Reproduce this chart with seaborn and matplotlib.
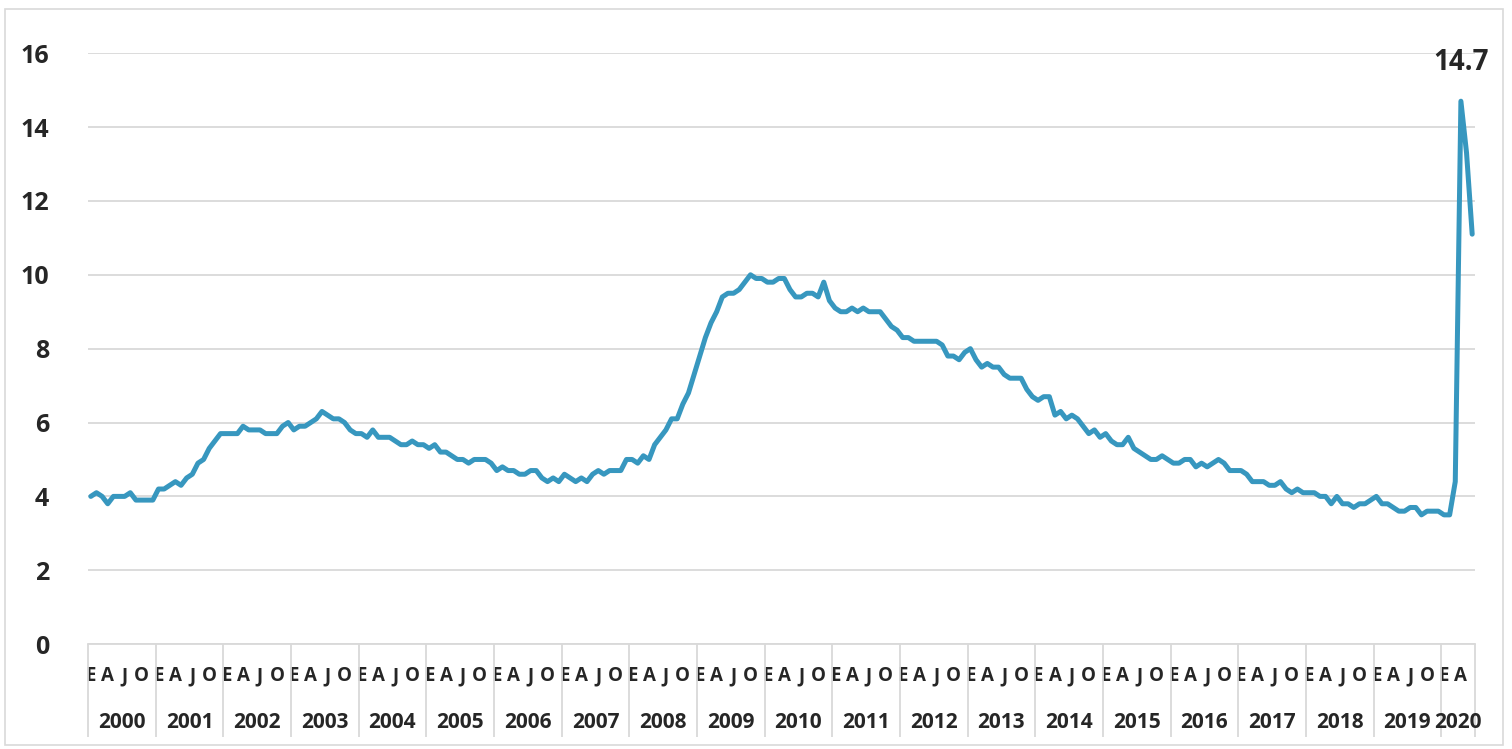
import matplotlib
matplotlib.use("Agg")
import matplotlib.pyplot as plt
import matplotlib.transforms as mtransforms
from matplotlib.patches import Rectangle
import numpy as np
import pandas as pd
import seaborn as sns

# tasa de desempleo mensual, ene-2000 a jun-2020
years = [str(y) for y in range(2000, 2021)]
month_letters = ['E', 'A', 'J', 'O']
rate_2000 = [4.0, 4.1, 4.0, 3.8, 4.0, 4.0, 4.0, 4.1, 3.9, 3.9, 3.9, 3.9]
rate_2001 = [4.2, 4.2, 4.3, 4.4, 4.3, 4.5, 4.6, 4.9, 5.0, 5.3, 5.5, 5.7]
rate_2002 = [5.7, 5.7, 5.7, 5.9, 5.8, 5.8, 5.8, 5.7, 5.7, 5.7, 5.9, 6.0]
rate_2003 = [5.8, 5.9, 5.9, 6.0, 6.1, 6.3, 6.2, 6.1, 6.1, 6.0, 5.8, 5.7]
rate_2004 = [5.7, 5.6, 5.8, 5.6, 5.6, 5.6, 5.5, 5.4, 5.4, 5.5, 5.4, 5.4]
rate_2005 = [5.3, 5.4, 5.2, 5.2, 5.1, 5.0, 5.0, 4.9, 5.0, 5.0, 5.0, 4.9]
rate_2006 = [4.7, 4.8, 4.7, 4.7, 4.6, 4.6, 4.7, 4.7, 4.5, 4.4, 4.5, 4.4]
rate_2007 = [4.6, 4.5, 4.4, 4.5, 4.4, 4.6, 4.7, 4.6, 4.7, 4.7, 4.7, 5.0]
rate_2008 = [5.0, 4.9, 5.1, 5.0, 5.4, 5.6, 5.8, 6.1, 6.1, 6.5, 6.8, 7.3]
rate_2009 = [7.8, 8.3, 8.7, 9.0, 9.4, 9.5, 9.5, 9.6, 9.8, 10.0, 9.9, 9.9]
rate_2010 = [9.8, 9.8, 9.9, 9.9, 9.6, 9.4, 9.4, 9.5, 9.5, 9.4, 9.8, 9.3]
rate_2011 = [9.1, 9.0, 9.0, 9.1, 9.0, 9.1, 9.0, 9.0, 9.0, 8.8, 8.6, 8.5]
rate_2012 = [8.3, 8.3, 8.2, 8.2, 8.2, 8.2, 8.2, 8.1, 7.8, 7.8, 7.7, 7.9]
rate_2013 = [8.0, 7.7, 7.5, 7.6, 7.5, 7.5, 7.3, 7.2, 7.2, 7.2, 6.9, 6.7]
rate_2014 = [6.6, 6.7, 6.7, 6.2, 6.3, 6.1, 6.2, 6.1, 5.9, 5.7, 5.8, 5.6]
rate_2015 = [5.7, 5.5, 5.4, 5.4, 5.6, 5.3, 5.2, 5.1, 5.0, 5.0, 5.1, 5.0]
rate_2016 = [4.9, 4.9, 5.0, 5.0, 4.8, 4.9, 4.8, 4.9, 5.0, 4.9, 4.7, 4.7]
rate_2017 = [4.7, 4.6, 4.4, 4.4, 4.4, 4.3, 4.3, 4.4, 4.2, 4.1, 4.2, 4.1]
rate_2018 = [4.1, 4.1, 4.0, 4.0, 3.8, 4.0, 3.8, 3.8, 3.7, 3.8, 3.8, 3.9]
rate_2019 = [4.0, 3.8, 3.8, 3.7, 3.6, 3.6, 3.7, 3.7, 3.5, 3.6, 3.6, 3.6]
rate_2020 = [3.5, 3.5, 4.4, 14.7, 13.3, 11.1]

rates = (rate_2000 + rate_2001 + rate_2002 + rate_2003 + rate_2004 + rate_2005
         + rate_2006 + rate_2007 + rate_2008 + rate_2009 + rate_2010 + rate_2011
         + rate_2012 + rate_2013 + rate_2014 + rate_2015 + rate_2016 + rate_2017
         + rate_2018 + rate_2019 + rate_2020)
n = len(rates)
data = pd.DataFrame({'mes': np.arange(n), 'tasa': rates})

sns.set_style('white')
plt.rcParams['font.family'] = ['Open Sans', 'DejaVu Sans']
plt.rcParams['font.weight'] = 'bold'

fig = plt.figure(figsize=(15.12, 7.49), dpi=100)
ax = fig.add_axes([88 / 1512, 0.140, (1475 - 88) / 1512, 0.789])
fig.patches.append(Rectangle((5 / 1512, 4 / 749), 1498 / 1512, 736 / 749,
                             transform=fig.transFigure, fill=False,
                             edgecolor='#d9d9d9', linewidth=1.2))

sns.lineplot(data=data, x='mes', y='tasa', ax=ax, color='#3797BF', linewidth=3.6)

ax.set_ylim(0, 16)
ax.set_xlim(-0.5, n - 0.5)
ax.set_yticks(range(0, 17, 2))
ax.yaxis.grid(True, color='#d9d9d9', linewidth=1.3)
ax.set_axisbelow(True)
for s in ['left', 'right', 'top']:
    ax.spines[s].set_visible(False)
ax.spines['bottom'].set_color('#d9d9d9')
ax.spines['bottom'].set_linewidth(1.3)
ax.tick_params(axis='y', length=0, pad=28, labelsize=18)
ax.set_xlabel('')
ax.set_ylabel('')

# letras de meses (E, A, J, O)
quarter_pos = [i for i in range(n) if i % 3 == 0]
ax.set_xticks(quarter_pos)
ax.set_xticklabels([month_letters[(i % 12) // 3] for i in quarter_pos])
ax.tick_params(axis='x', which='major', length=0, pad=16, labelsize=13.5)

# separadores de años
bounds = [-0.5 + 12 * k for k in range(len(years))] + [n - 0.5]
ax.set_xticks(bounds, minor=True)
ax.tick_params(axis='x', which='minor', bottom=True, length=67, width=1.3,
               color='#d9d9d9', direction='out')

trans = mtransforms.blended_transform_factory(ax.transData, ax.transAxes)
for k, y in enumerate(years):
    start = 12 * k
    end = min(12 * k + 11, n - 1)
    ax.text((start + end) / 2, -0.133, y, transform=trans, ha='center', va='center',
            fontsize=15, fontweight='bold')

ax.annotate('14.7', xy=(rates.index(14.7), 14.7), xytext=(0, 28),
            textcoords='offset points', ha='center', va='center',
            fontsize=20, fontweight='bold')

fig.savefig('out.png', dpi=100)
